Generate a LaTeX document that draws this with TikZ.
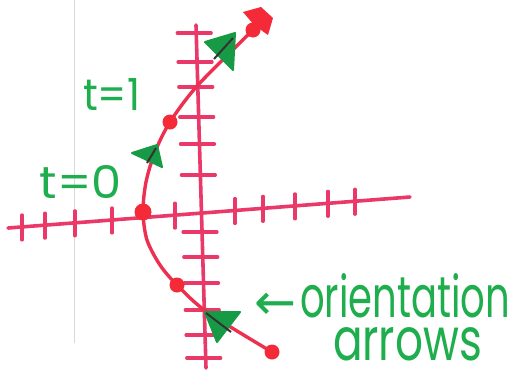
\documentclass[tikz,border=0pt]{standalone}
\usepackage{graphicx}
\usepackage{fontspec}
\setmainfont{Poppins}
\newfontfamily\arrowfont{DejaVu Sans}
\usetikzlibrary{calc}
\definecolor{axispink}{HTML}{EA3868}
\definecolor{curvered}{HTML}{EE3050}
\definecolor{dotred}{HTML}{F52A38}
\definecolor{textgreen}{HTML}{1FAE4E}
\definecolor{trigreen}{HTML}{179A45}
\tikzset{
  axis/.style={draw=axispink, line width=3.6pt, line cap=round},
  tick/.style={draw=axispink, line width=3.2pt, line cap=round},
  curve/.style={draw=curvered, line width=3.4pt, line cap=round},
  dot/.style={circle, fill=dotred, inner sep=0pt, minimum size=15pt},
  orient/.style={fill=trigreen, draw=trigreen, line width=2pt, line join=round},
  inner/.style={draw=black!80, line width=2pt},
  lbl/.style={text=textgreen, inner sep=0pt, outer sep=0pt},
}
\begin{document}
\begin{tikzpicture}[x=1pt,y=-1pt]
\useasboundingbox (0,0) rectangle (517,370);
\fill[white] (0,0) rectangle (517,370);
% faint paper edge
\coordinate (pe1) at (74,0);
\coordinate (pe2) at (74,343);
\draw[black!15, line width=0.8pt] (pe1) -- (pe2);

% axes
\coordinate (hl) at (8,228);
\coordinate (hr) at (410,197);
\coordinate (vt) at (196,25);
\coordinate (vb) at (206,368);
\draw[axis] (hl) -- (hr);
\draw[axis] (vt) -- (vb);
\foreach \x in {22,45,75,112,175,235,263,295,328,355}
  \draw[tick] ($(hl)!{(\x-8)/402}!(hr)$) ++(0,-12) -- ++(0,25);
\foreach \y in {33,62,87,117,144,175,232,257,283,310,335,358}
  \draw[tick] ($(vt)!{(\y-25)/343}!(vb)$) ++(-19,0) -- ++(34,0);

% curve points
\coordinate (c5) at (272,352);
\coordinate (k1) at (207,312);
\coordinate (c4) at (177,285);
\coordinate (k2) at (160,265);
\coordinate (k3) at (147,240);
\coordinate (c3) at (143,212);
\coordinate (k4) at (146,182);
\coordinate (k5) at (155,152);
\coordinate (c2) at (170,122);
\coordinate (k6) at (198,85);
\coordinate (c1) at (253,30);
\draw[curve] plot[smooth, tension=0.5] coordinates {(c5) (k1) (c4) (k2) (k3) (c3) (k4) (k5) (c2) (k6) (c1)};

% red arrow head at the end
\fill[dotred] (243,12) -- (261,7) -- (273,18) -- (268,35) -- (254,25) -- cycle;

% orientation arrows
\draw[orient] (235,33) -- (205,42) -- (233,70) -- cycle;
\draw[inner] (233,38) -- (214,59);
\draw[orient] (157,145) -- (132,153) -- (162,167) -- cycle;
\draw[inner] (156,148) -- (147,163);
\draw[orient] (205,312) -- (240,312) -- (217,342) -- cycle;
\draw[inner] (206,313) -- (231,332);

% dots
\node[dot] (d1) at (c1) {};
\node[dot] (d2) at (c2) {};
\node[dot, minimum size=17pt] (d3) at (c3) {};
\node[dot] (d4) at (c4) {};
\node[dot] (d5) at (c5) {};

% labels
\node[lbl, anchor=base west] (t1) at (83,110) {\resizebox{57pt}{32pt}{t=1}};
\node[lbl, anchor=base west] (t0) at (40,198) {\resizebox{82pt}{33pt}{t=0}};
\node[lbl, anchor=center] (arr) at (275,306) {\resizebox{42pt}{!}{\arrowfont ←}};
\node[lbl, anchor=north west, align=left] (or) at (300,273)
  {\resizebox{210pt}{44pt}{orientation}\\[9pt]\hspace*{33pt}\resizebox{149pt}{33pt}{arrows}};
\end{tikzpicture}
\end{document}
